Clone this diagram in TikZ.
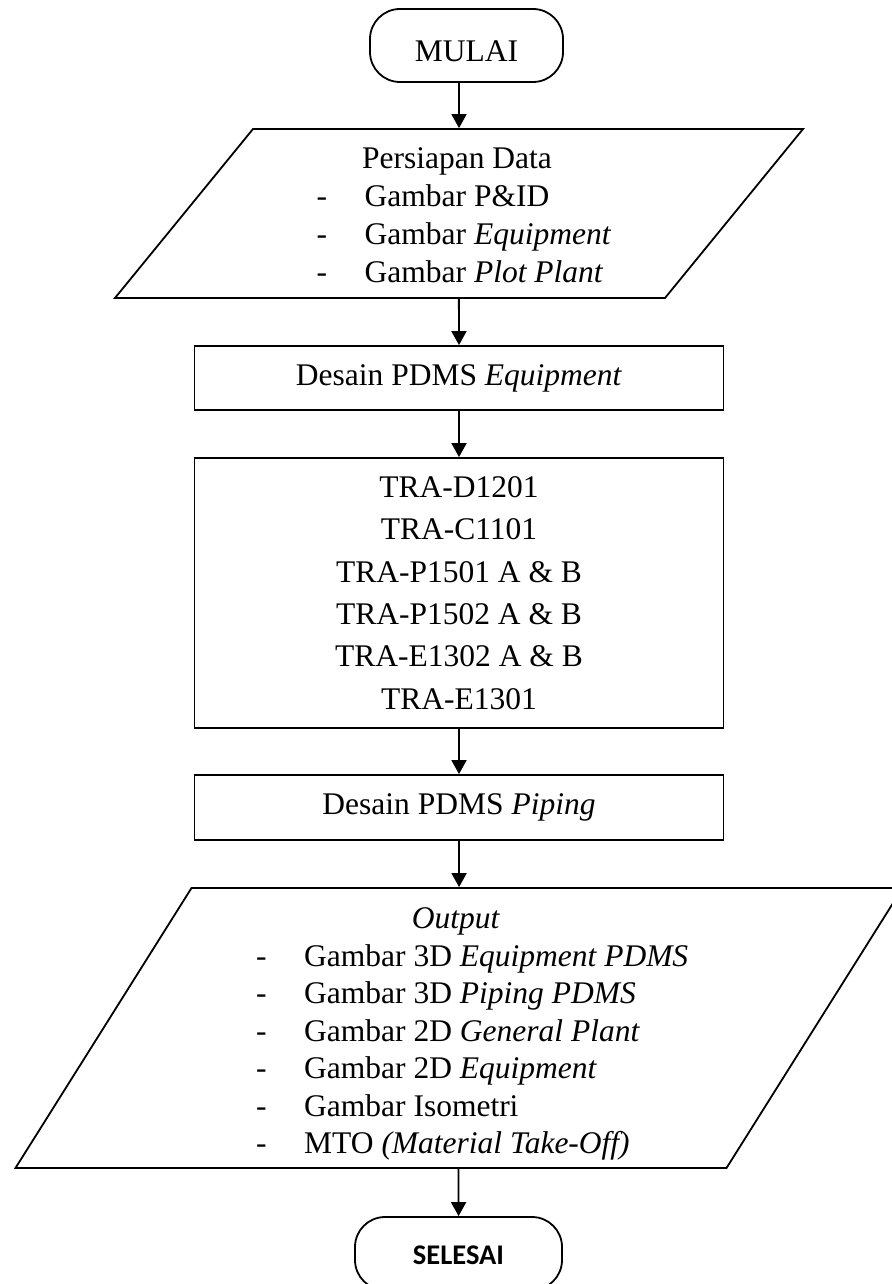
\documentclass[tikz,border=0pt]{standalone}
\usepackage{fontspec}
\setmainfont{Liberation Serif}
\newfontfamily\endfont{Carlito}
\usetikzlibrary{arrows.meta,positioning,shapes.geometric}

\newcommand{\dashitem}[1]{\makebox[48pt][l]{-}#1}

\begin{document}
\begin{tikzpicture}[x=1pt,y=-1pt,
    every node/.style={font=\fontsize{31.5pt}{38pt}\selectfont},
    term/.style={draw, line width=1.8pt, rounded corners=30pt, minimum width=193pt, minimum height=73pt, inner sep=0pt},
    proc/.style={draw, line width=1.8pt, minimum width=529pt, inner sep=0pt, align=center},
    data/.style={draw, line width=1.8pt, rectangle, inner sep=0pt, transform shape},
    item/.style={anchor=base west, inner sep=0pt},
    flow/.style={-{Triangle[length=14pt,width=15pt]}, line width=1.8pt}
  ]
  \useasboundingbox (0,0) rectangle (891,1284);

  \node[term, text height=32pt] (mulai) at (466.5,45.5) {MULAI};

  % input data
  \node[data, xslant=0.8166, minimum width=550pt, minimum height=169pt] (input) at (459,213.5) {};
  \node[anchor=base, inner sep=0pt] (inputtitle) at (457,168) {Persiapan Data};
  \foreach \t [count=\i] in {Gambar P\&ID, Gambar \textit{Equipment}, Gambar \textit{Plot Plant}}
    \node[item] (inputitem\i) at (316.5,168+38.3*\i) {\dashitem{\t}};

  \node[proc, minimum height=64pt] (desaineq) at (459,378) {Desain PDMS \textit{Equipment}};
  \node[proc, minimum height=270pt, font=\fontsize{31.5pt}{42.4pt}\selectfont] (tag) at (459,593)
    {TRA-D1201\\TRA-C1101\\TRA-P1501 A \& B\\TRA-P1502 A \& B\\TRA-E1302 A \& B\\TRA-E1301};
  \node[proc, minimum height=65pt] (desainpipe) at (459,807.5) {Desain PDMS \textit{Piping}};

  % output
  \node[data, xslant=0.6286, minimum width=711pt, minimum height=280pt] (output) at (459,1028) {};
  \node[anchor=base, inner sep=0pt] (outputtitle) at (456,928.5) {\textit{Output}};
  \foreach \t [count=\i] in {Gambar 3D \textit{Equipment PDMS}, Gambar 3D \textit{Piping PDMS}, Gambar 2D \textit{General Plant}, Gambar 2D \textit{Equipment}, Gambar Isometri, MTO \textit{(Material Take-Off)}}
    \node[item] (outputitem\i) at (256,928.5+37.5*\i) {\dashitem{\t}};

  \node[term, minimum width=207pt, text height=23pt, font=\endfont\bfseries\fontsize{28.5pt}{34pt}\selectfont] (selesai) at (458.5,1253.5) {SELESAI};

  \draw[flow] (input.center |- mulai.south) -- (input.center |- input.north);
  \draw[flow] (input) -- (desaineq);
  \draw[flow] (desaineq) -- (tag);
  \draw[flow] (tag) -- (desainpipe);
  \draw[flow] (desainpipe) -- (output);
  \draw[flow] (output) -- (selesai);
\end{tikzpicture}
\end{document}
